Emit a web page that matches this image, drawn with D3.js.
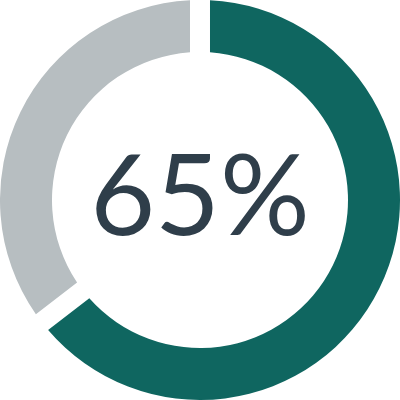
<!DOCTYPE html>
<html>
<head>
<meta charset="utf-8">
<script src="https://cdn.jsdelivr.net/npm/d3@7"></script>
<style>
  html, body { margin: 0; padding: 0; background: #fff; }
</style>
</head>
<body>
<div id="chart"></div>
<script>
// data
var labels = ['Done', 'Remaining']
var values = [65, 35]
var colors = ['#0f6660', '#b7bec1']
var centerLabel = '65%'

var width = 400
var height = 400
var outerRadius = 200
var innerRadius = 148

var svg = d3.select('#chart')
  .append('svg')
  .attr('width', width)
  .attr('height', height)

var g = svg.append('g')
  .attr('transform', 'translate(' + width / 2 + ',' + height / 2 + ')')

var pie = d3.pie()
  .sort(null)
  .padAngle(0.1)

var arc = d3.arc()
  .innerRadius(innerRadius)
  .outerRadius(outerRadius)
  .padRadius(outerRadius)

var colorScale = d3.scaleOrdinal().domain(labels).range(colors)

g.selectAll('path')
  .data(pie(values))
  .enter()
  .append('path')
  .attr('d', arc)
  .attr('fill', function(d, i) { return colorScale(labels[i]) })

g.append('text')
  .attr('x', 0)
  .attr('y', 35)
  .attr('text-anchor', 'middle')
  .attr('font-family', 'Lato')
  .attr('font-size', 112)
  .attr('fill', '#2f3e4a')
  .text(centerLabel)
</script>
</body>
</html>
